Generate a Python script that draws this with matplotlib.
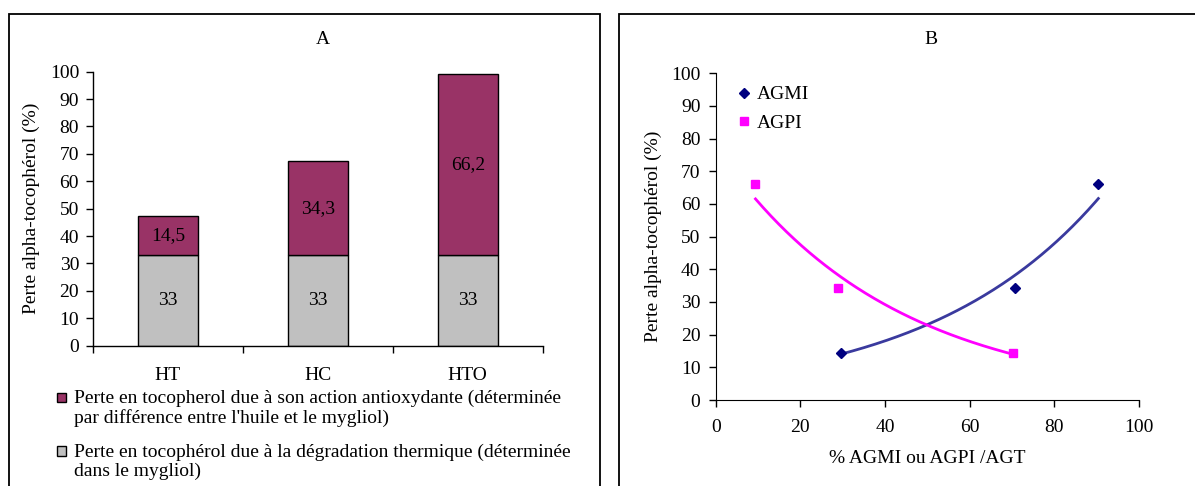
import numpy as np
import matplotlib
matplotlib.use("Agg")
import matplotlib.pyplot as plt
from matplotlib.patches import Rectangle, Patch
from matplotlib.legend_handler import HandlerPatch

plt.rcParams['font.family'] = ['Liberation Serif', 'DejaVu Serif']

# ---- data ----
categories = ['HT', 'HC', 'HTO']
thermal_loss = [33, 33, 33]
antiox_loss = [14.5, 34.3, 66.2]

agmi_x = [29.5, 70.6, 90.4]
agmi_y = [14.5, 34.3, 66.2]
agpi_x = [9.4, 29.0, 70.2]
agpi_y = [66.2, 34.3, 14.5]

label_antiox = "Perte en tocopherol due à son action antioxydante (déterminée\npar différence entre l'huile et le mygliol)"
label_thermal = "Perte en tocophérol due à la dégradation thermique (déterminée\ndans le mygliol)"

FS = 14
W, H = 1195, 486
fig = plt.figure(figsize=(W / 100, H / 100), dpi=100)

def fx(px):
    return px / W

def fy(py):
    return 1 - py / H

# panel frames
fig.patches.append(Rectangle((fx(9), -0.1), fx(600) - fx(9), fy(14) + 0.1,
                             transform=fig.transFigure, fill=False,
                             edgecolor='black', linewidth=1.3))
fig.patches.append(Rectangle((fx(619), -0.1), 0.6, fy(14) + 0.1,
                             transform=fig.transFigure, fill=False,
                             edgecolor='black', linewidth=1.3))

# ---------------- Panel A ----------------
axA = fig.add_axes([fx(93), fy(345.7), fx(542.7) - fx(93), fy(71.7) - fy(345.7)])
xpos = np.arange(len(categories))
c_gray = '#C0C0C0'
c_maroon = '#993366'
b1 = axA.bar(xpos, thermal_loss, width=0.4, color=c_gray, edgecolor='black', linewidth=1.0)
b2 = axA.bar(xpos, antiox_loss, width=0.4, bottom=thermal_loss, color=c_maroon,
             edgecolor='black', linewidth=1.0)
fmt = lambda v: (f"{v:g}").replace('.', ',')
axA.bar_label(b1, labels=[fmt(v) for v in thermal_loss], label_type='center', fontsize=FS)
axA.bar_label(b2, labels=[fmt(v) for v in antiox_loss], label_type='center', fontsize=FS)

axA.set_xlim(-0.5, len(categories) - 0.5)
axA.set_ylim(0, 100)
axA.set_yticks(np.arange(0, 101, 10))
axA.tick_params(axis='y', direction='out', length=5, width=1, pad=5, labelsize=FS)
axA.set_xticks(np.arange(-0.5, len(categories), 1.0))
axA.set_xticklabels([])
axA.set_xticks(xpos, minor=True)
axA.set_xticklabels(categories, minor=True)
axA.tick_params(axis='x', which='major', direction='out', length=5, width=1)
axA.tick_params(axis='x', which='minor', length=0, pad=15, labelsize=FS)
for s in ['top', 'right']:
    axA.spines[s].set_visible(False)
for s in ['left', 'bottom']:
    axA.spines[s].set_linewidth(1.0)
axA.set_ylabel('Perte alpha-tocophérol (%)', fontsize=FS)
axA.yaxis.set_label_coords(-0.118, 0.5)


def make_square(legend, orig_handle, xdescent, ydescent, width, height, fontsize):
    s = 7.0
    return Rectangle((-xdescent + 0.5, -ydescent + 8.3), s, s)


handles = [Patch(facecolor=c_maroon, edgecolor='black', linewidth=1.0),
           Patch(facecolor=c_gray, edgecolor='black', linewidth=1.0)]
legA = fig.legend(handles, [label_antiox, label_thermal], loc='upper left',
                  bbox_to_anchor=(fx(56), fy(390)), frameon=False, fontsize=FS,
                  borderpad=0, borderaxespad=0, handlelength=0.55, handleheight=0.55,
                  handletextpad=0.4, labelspacing=0.85,
                  handler_map={Patch: HandlerPatch(patch_func=make_square)})
for t in legA.get_texts():
    t.set_linespacing(1.13)

fig.text(fx(323), fy(40), 'A', ha='center', va='center', fontsize=FS)

# ---------------- Panel B ----------------
axB = fig.add_axes([fx(715.7), fy(400), fx(1139) - fx(715.7), fy(73.3) - fy(400)])
axB.set_xlim(0, 100)
axB.set_ylim(0, 100)
axB.set_xticks(np.arange(0, 101, 20))
axB.set_yticks(np.arange(0, 101, 10))
axB.tick_params(axis='both', direction='out', length=5, width=1, labelsize=FS)
axB.tick_params(axis='y', pad=6)
axB.tick_params(axis='x', pad=9)
for s in ['top', 'right']:
    axB.spines[s].set_visible(False)

c_navy = '#000080'
c_mag = '#FF00FF'


def exp_trend(x, y):
    x = np.asarray(x, float)
    y = np.asarray(y, float)
    b, lna = np.polyfit(x, np.log(y), 1)
    xs = np.linspace(x.min(), x.max(), 200)
    return xs, np.exp(lna) * np.exp(b * xs)


xs, ys = exp_trend(agmi_x, agmi_y)
axB.plot(xs, ys, color='#3A3A9E', linewidth=2.0, zorder=2)
xs, ys = exp_trend(agpi_x, agpi_y)
axB.plot(xs, ys, color=c_mag, linewidth=2.0, zorder=2)

axB.plot(agmi_x, agmi_y, linestyle='none', marker='D', markersize=5.5,
         color=c_navy, label='AGMI', zorder=3)
axB.plot(agpi_x, agpi_y, linestyle='none', marker='s', markersize=6,
         color=c_mag, label='AGPI', zorder=3)

axB.legend(loc='upper left', bbox_to_anchor=(0.053, 0.962), frameon=False,
           fontsize=FS, handlelength=0.6, handletextpad=0.35, labelspacing=0.58,
           borderpad=0, borderaxespad=0)

axB.set_ylabel('Perte alpha-tocophérol (%)', fontsize=FS)
axB.yaxis.set_label_coords(-0.128, 0.5)
axB.set_xlabel('% AGMI ou AGPI /AGT', fontsize=FS, labelpad=10)

fig.text(fx(931), fy(40), 'B', ha='center', va='center', fontsize=FS)

fig.savefig('out.png', dpi=100)
